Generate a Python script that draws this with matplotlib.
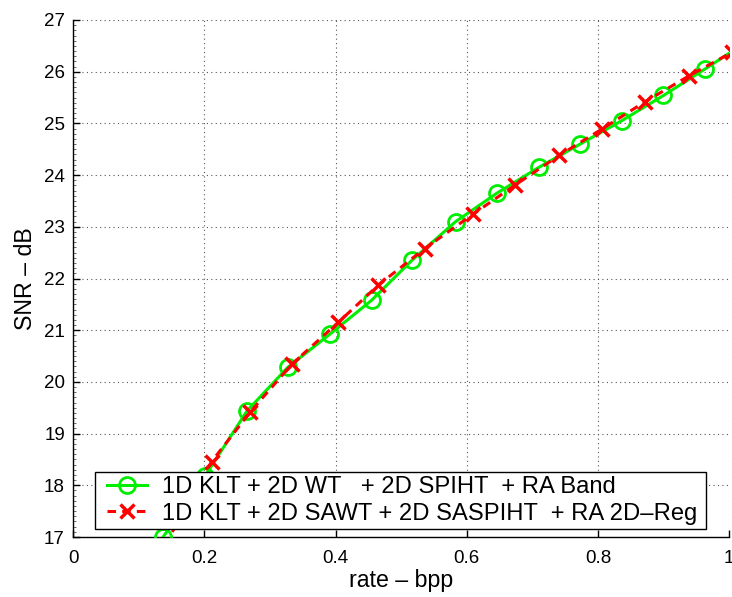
import matplotlib
matplotlib.use("Agg")
import matplotlib.pyplot as plt
from matplotlib.ticker import MultipleLocator
from matplotlib.patches import Rectangle

plt.rcParams['font.family'] = ['Liberation Sans', 'DejaVu Sans']

# Series 1: 1D KLT + 2D WT + 2D SPIHT + RA Band
x_band = [0.137, 0.201, 0.265, 0.327, 0.391, 0.455, 0.517, 0.583, 0.646, 0.710, 0.773, 0.836, 0.900, 0.963, 1.026]
y_band = [17.00, 18.18, 19.44, 20.28, 20.92, 21.58, 22.36, 23.10, 23.65, 24.15, 24.60, 25.05, 25.54, 26.05, 26.57]

# Series 2: 1D KLT + 2D SAWT + 2D SASPIHT + RA 2D-Reg
x_reg = [0.140, 0.211, 0.270, 0.333, 0.404, 0.465, 0.536, 0.609, 0.674, 0.741, 0.806, 0.872, 0.939, 1.005]
y_reg = [16.85, 18.46, 19.42, 20.34, 21.15, 21.87, 22.58, 23.24, 23.81, 24.38, 24.89, 25.42, 25.92, 26.38]

labels = ["1D KLT + 2D WT   + 2D SPIHT  + RA Band",
          "1D KLT + 2D SAWT + 2D SASPIHT  + RA 2D\u2013Reg"]

xticks = [0, 0.2, 0.4, 0.6, 0.8, 1]
xticklabels = ["0", "0.2", "0.4", "0.6", "0.8", "1"]
yticks = list(range(17, 28))

fig = plt.figure(figsize=(7.32, 5.97), dpi=100)
ax = fig.add_axes([0.1001, 0.1005, 0.8959, 0.866])

ax.plot(x_band, y_band, color='#00ee00', lw=2.2, marker='o', ms=11.5,
        mfc='none', mec='#00ee00', mew=2.0, label=labels[0], zorder=3)
ax.plot(x_reg, y_reg, color='#ff0000', lw=2.2, ls=(0, (2.8, 2.0)), marker='x', ms=9.5,
        mec='#ff0000', mew=2.5, label=labels[1], zorder=4)

ax.set_xlim(0, 1)
ax.set_ylim(17, 27)
ax.set_xticks(xticks)
ax.set_xticklabels(xticklabels)
ax.set_yticks(yticks)
ax.yaxis.set_minor_locator(MultipleLocator(0.1))
ax.tick_params(axis='both', which='major', direction='in', length=5, width=1,
               labelsize=13.5, colors='black')
ax.tick_params(axis='x', which='major', pad=9)
ax.tick_params(axis='y', which='major', pad=6)
ax.tick_params(axis='y', which='minor', direction='in', length=2, width=0.6, color='#555555')
ax.grid(True, which='major', ls=(0, (1, 3)), color='#555555', lw=0.8)

ax.spines['top'].set_visible(False)
ax.spines['right'].set_visible(False)
ax.spines['left'].set_linewidth(1.0)
ax.spines['bottom'].set_linewidth(1.0)

ax.set_xlabel("rate \u2013 bpp", fontsize=16.7, labelpad=2)
ax.set_ylabel("SNR \u2013 dB", fontsize=16.7, labelpad=5)

# legend frame (wider horizontal padding than vertical, as in the reference)
frame = Rectangle((0.033, 0.015), 0.9315, 0.111, transform=ax.transAxes,
                  facecolor='white', edgecolor='black', lw=1.0, zorder=9)
ax.add_patch(frame)

leg = ax.legend(loc='center left', bbox_to_anchor=(0.051, 0.0705), fontsize=17.1,
                frameon=False, handlelength=1.7, borderpad=0, labelspacing=0.18,
                handletextpad=0.63, borderaxespad=0)
leg.set_zorder(10)

fig.savefig("out.png", dpi=100)
